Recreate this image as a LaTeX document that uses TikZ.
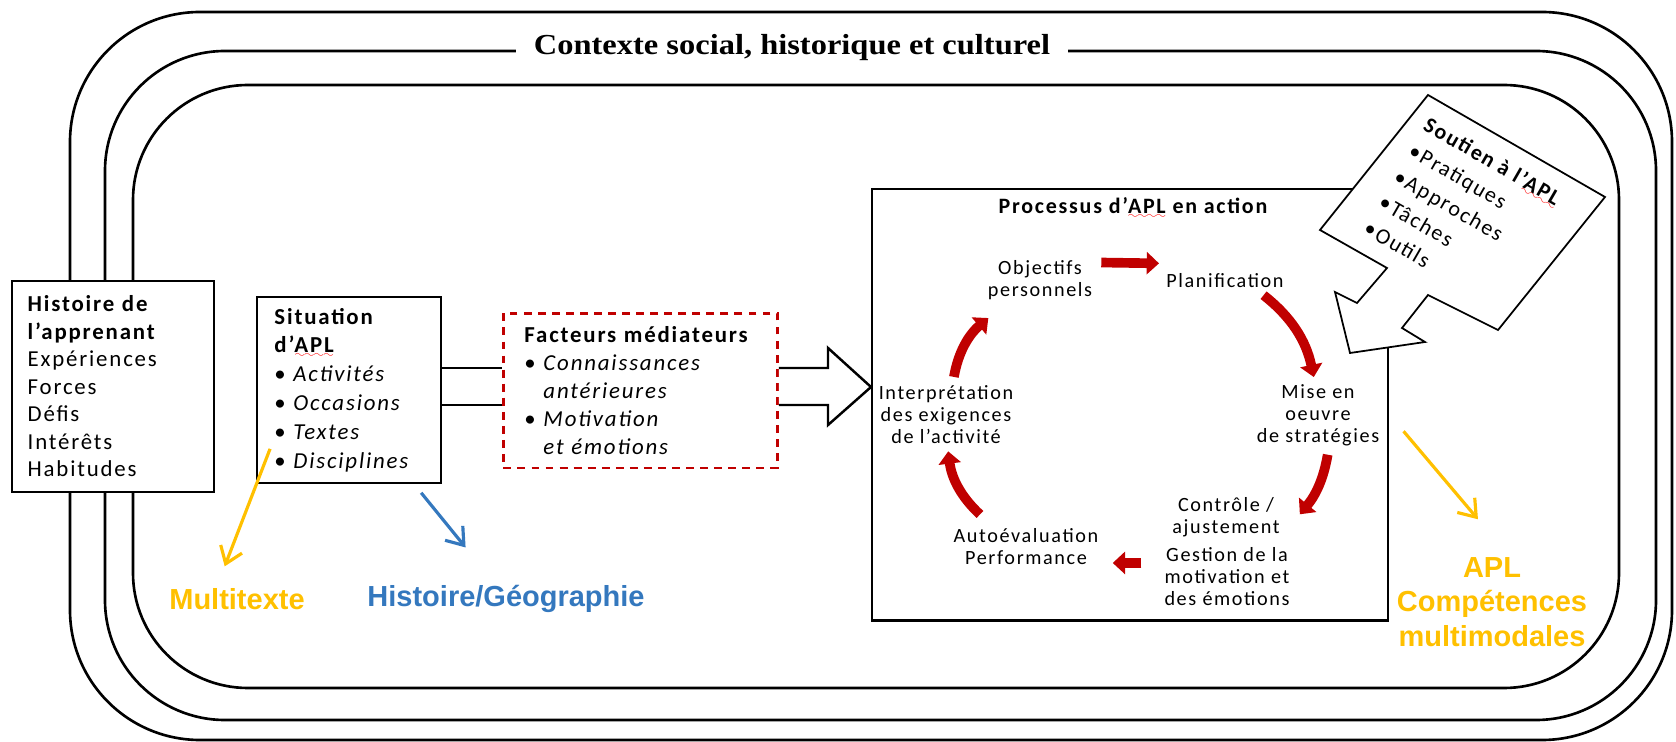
\documentclass[tikz,border=0pt]{standalone}
\usepackage{fontspec}
\setmainfont{Carlito}[LetterSpace=8]
\newfontfamily\ctxfont{Liberation Serif}[FakeStretch=1.12]
\newfontfamily\arialfont{Liberation Sans}
\usetikzlibrary{arrows.meta, calc, positioning}
\definecolor{aplred}{RGB}{192, 0, 0}
\definecolor{aplorange}{RGB}{255, 192, 0}
\definecolor{aplblue}{RGB}{52, 120, 190}
\font\wavefont=lasy6
\newcommand{\spellmark}[1]{\setbox0\hbox{#1}\rlap{\raisebox{-2.6pt}{\color{red}\hbox to \wd0{\xleaders\hbox{\wavefont\char58}\hfill}}}\box0\relax}

\begin{document}
\begin{tikzpicture}[x=0.02cm, y=-0.02cm, > = Triangle,
	ctxline/.style={line width=1.5pt},
	box/.style={draw, line width=1pt, fill=white, anchor=north west, align=left, inner ysep=2pt},
	cyc/.style={align=center, inner sep=2pt, font=\fontsize{11.5}{12.5}\selectfont},
	cycarrow/.style={aplred, line width=5.5pt, -{Triangle[length=7pt,width=12.5pt]}, shorten <=3pt, shorten >=2pt},
	notearrow/.style={line width=1.8pt, -{Straight Barb[length=9pt,width=13pt]}},
	notetext/.style={font=\arialfont\bfseries\fontsize{16.5}{19.8}\selectfont, align=center}]
	\useasboundingbox (0,0) rectangle (1676,742);

	% social and cultural context
	\draw[ctxline, rounded corners=2.6cm] (70,12) rectangle (1672,740);
	\draw[ctxline, rounded corners=2.4cm] (105,51) rectangle (1656,720);
	\draw[ctxline, rounded corners=2.3cm] (133,85) rectangle (1619,688);
	\node[fill=white, inner xsep=10pt, font=\ctxfont\bfseries\fontsize{16.5}{19}\selectfont] (ctx) at (792,48) {Contexte social, historique et culturel};

	% process box
	\node[draw, line width=1.4pt, minimum width=293.7pt, minimum height=245.5pt, anchor=north west] (proc) at (871,188) {};
	\node[font=\bfseries\fontsize{12.5}{15}\selectfont] (proctitle) at (1133,208) {Processus d’\spellmark{APL} en action};

	\node[cyc] (obj) at (1040,280) {Objectifs\\personnels};
	\node[cyc] (plan) at (1225,281) {Planification};
	\node[cyc] (mise) at (1318,415) {Mise en\\oeuvre\\de stratégies};
	\node[cyc] (ctrl) at (1226,517) {Contrôle /\\ajustement};
	\node[cyc] (gest) at (1227,577) {Gestion de la\\motivation et\\des émotions};
	\node[cyc] (auto) at (1026,547) {Autoévaluation\\Performance};
	\node[cyc] (interp) at (946,415) {Interprétation\\des exigences\\de l’activité};

	\draw[cycarrow] ([yshift=10pt]obj.east) -- ([yshift=10pt]plan.west);
	\draw[cycarrow] ([xshift=-16pt]plan.south east) to[bend left=20] ([xshift=-2pt]mise.north);
	\draw[cycarrow] ([xshift=6pt]mise.south) to[bend left=15] ([xshift=8pt]ctrl.east);
	\draw[cycarrow] ([xshift=-8pt,yshift=8pt]gest.west) -- ([xshift=4pt,yshift=8pt]gest.west -| auto.east);
	\draw[cycarrow] ([xshift=-24pt,yshift=4pt]auto.north) to[bend left=20] ([xshift=1pt]interp.south);
	\draw[cycarrow] ([xshift=4pt]interp.north) to[bend left=20] ([xshift=4pt,yshift=-7pt]obj.south west);

	% learner and situation
	\node[box, minimum height=120pt, text width=97pt, inner xsep=9pt, font=\fontsize{13}{15.6}\selectfont] (hist) at (11,280)
		{\textbf{Histoire de}\\\textbf{l’apprenant}\\Expériences\\Forces\\Défis\\Intérêts\\Habitudes};
	\node[box, minimum height=106pt, text width=85pt, inner xsep=10pt, font=\fontsize{13}{16.4}\selectfont] (sit) at (256,296)
		{\textbf{Situation}\\\textbf{d’\spellmark{APL}}\\\textbullet\ \textit{Activités}\\\textbullet\ \textit{Occasions}\\\textbullet\ \textit{Textes}\\\textbullet\ \textit{Disciplines}};
	\node[box, draw=aplred, dash pattern=on 4.5pt off 3.5pt, line width=1.6pt, minimum height=88pt, text width=132pt, inner xsep=12pt, font=\fontsize{13}{15.9}\selectfont] (fact) at (502,312)
		{\textbf{Facteurs médiateurs}\\\textbullet\ \textit{Connaissances}\\\phantom{\textbullet\ }\textit{antérieures}\\\textbullet\ \textit{Motivation}\\\phantom{\textbullet\ }\textit{et émotions}};

	\draw[line width=1.4pt] (sit.east |- 0,368) -- (fact.west |- 0,368);
	\draw[line width=1.4pt] (sit.east |- 0,405) -- (fact.west |- 0,405);
	\draw[line width=1.4pt, fill=white] (fact.east |- 0,368) -- (828,368) -- (828,348) -- (proc.west |- 0,387) -- (828,425) -- (828,405) -- (fact.east |- 0,405);

	% support callout
	\draw[line width=1pt, fill=white] (1428,95) -- (1605,197) -- (1498,330) -- (1428,295) -- (1402,328) -- (1425,342) -- (1350,353)
		-- (1335,292) -- (1357,303) -- (1387,268) -- (1320,230) -- cycle;
	\node[rotate=-30, anchor=north west, inner sep=0pt, align=left, font=\fontsize{12.5}{17}\selectfont] (sout) at (1430,115)
		{\textbf{Soutien à l’\spellmark{APL}}\\\textbullet Pratiques\\\textbullet Approches\\\textbullet Tâches\\\textbullet Outils};

	% notes
	\node[notetext, text=aplorange] (multi) at (237,599) {Multitexte};
	\node[notetext, text=aplblue] (geo) at (506,599) {Histoire/Géographie};
	\node[notetext, text=aplorange] (apl) at (1492,602) {APL\\Compétences\\multimodales};
	\draw[notearrow, aplorange] ([xshift=8pt,yshift=20pt]sit.south west) -- ([xshift=-7pt,yshift=9pt]multi.north);
	\draw[notearrow, aplblue] ([xshift=-12pt,yshift=-5pt]sit.south east) -- ([xshift=-23pt,yshift=18pt]geo.north);
	\draw[notearrow, aplorange] ([xshift=8pt,yshift=-15pt]proc.east) -- ([xshift=-8pt,yshift=18pt]apl.north);
\end{tikzpicture}
\end{document}
